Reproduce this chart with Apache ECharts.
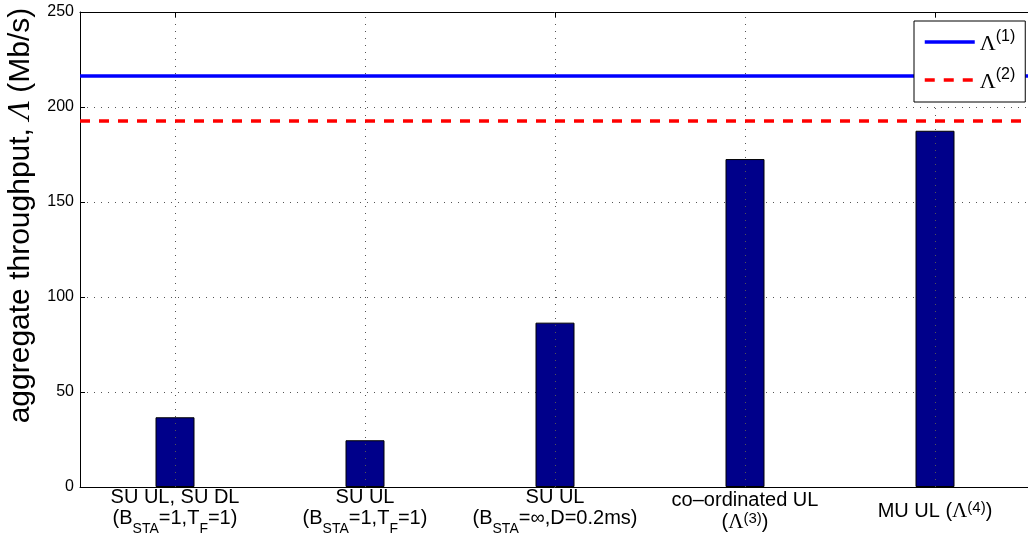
<!DOCTYPE html>
<html><head><meta charset="utf-8">
<script src="https://cdn.jsdelivr.net/npm/echarts@6/dist/echarts.min.js"></script>
<style>html,body{margin:0;padding:0;background:#fff}#c{width:1028px;height:542px}</style>
</head><body><div id="c"></div>
<script>
// ---- data ----
const categories = [
  'SU UL, SU DL\n{m|(B}{sub|STA}{m|=1,T}{sub|F}{m|=1)}',
  'SU UL\n{m|(B}{sub|STA}{m|=1,T}{sub|F}{m|=1)}',
  'SU UL\n{m|(B}{sub|STA}{m|=∞,D=0.2ms)}',
  'co–ordinated UL\n({L|Λ}{sup|(3)})',
  'MU UL ({L|Λ}{sup|(4)})'
];
const throughput = [36.7, 24.6, 86.5, 172.6, 187.5];
const lineNames = ['Λ(1)', 'Λ(2)'];
const lineSup = ['(1)', '(2)'];
const lineValues = [216.5, 192.8];
const yMin = 0, yMax = 250, yStep = 50;

const FONT = 'Liberation Sans';
const richCommon = {
  m: { fontSize: 20, lineHeight: 22, verticalAlign: 'top', fontFamily: FONT, color: '#000' },
  sub: { fontSize: 14, lineHeight: 28, verticalAlign: 'bottom', fontFamily: FONT, color: '#000' },
  sup: { fontSize: 15, lineHeight: 8, verticalAlign: 'top', fontFamily: FONT, color: '#000' },
  L: { fontSize: 21, lineHeight: 22, fontFamily: 'Liberation Serif', color: '#000' }
};

const chart = echarts.init(document.getElementById('c'), null, { renderer: 'canvas' });
const option = {
  animation: false,
  backgroundColor: '#fff',
  grid: { left: 80, top: 12, width: 950, height: 475, containLabel: false, outerBoundsMode: 'none' },
  legend: {
    data: lineNames,
    orient: 'vertical',
    left: 914, top: 21,
    backgroundColor: '#fff',
    borderColor: '#000', borderWidth: 1, borderRadius: 0,
    padding: [8, 10, 9, 9],
    itemWidth: 50, itemHeight: 14, itemGap: 12,
    z: 10,
    itemStyle: { opacity: 0 },
    lineStyle: { width: 3.5 },
    formatter: function (name) {
      const i = lineNames.indexOf(name);
      return '{L|Λ}{sup|' + lineSup[i] + '}';
    },
    textStyle: {
      color: '#000', fontFamily: FONT, fontSize: 20,
      rich: {
        L: { fontSize: 22, lineHeight: 26, verticalAlign: 'bottom', fontFamily: 'Liberation Serif', color: '#000' },
        sup: { fontSize: 16, lineHeight: 15, verticalAlign: 'top', fontFamily: FONT, color: '#000' }
      }
    }
  },
  xAxis: [{
    type: 'category',
    data: categories,
    position: 'bottom',
    axisLine: { show: true, lineStyle: { color: '#000', width: 1 } },
    axisTick: { show: true, inside: true, alignWithLabel: true, length: 5, lineStyle: { color: '#000' } },
    axisLabel: {
      interval: 0, color: '#000', fontFamily: FONT, fontSize: 20, lineHeight: 22,
      verticalAlign: 'middle', margin: 24,
      rich: richCommon
    },
    splitLine: { show: false }
  }, {
    type: 'category',
    data: categories,
    position: 'top',
    axisLine: { show: true, lineStyle: { color: '#000', width: 1 } },
    axisTick: { show: true, inside: true, alignWithLabel: true, length: 5, lineStyle: { color: '#000' } },
    axisLabel: { show: false },
    splitLine: { show: false }
  }],
  yAxis: [{
    type: 'value',
    min: yMin, max: yMax, interval: yStep,
    name: 'aggregate throughput, {i|Λ} (Mb/s)',
    nameLocation: 'middle', nameRotate: 90, nameGap: 40,
    nameTextStyle: {
      color: '#000', fontFamily: FONT, fontSize: 30,
      padding: [0, 0, 0, 68],
      rich: { i: { fontStyle: 'italic', fontFamily: 'Liberation Serif', fontSize: 31, color: '#000' } }
    },
    axisLine: { show: true, lineStyle: { color: '#000', width: 1 } },
    axisTick: { show: true, inside: true, length: 5, lineStyle: { color: '#000' } },
    axisLabel: { color: '#000', fontFamily: FONT, fontSize: 16, margin: 6 },
    splitLine: { show: true, lineStyle: { color: '#555', width: 1, type: [1, 6] } }
  }],
  series: [
    {
      type: 'line', data: [], silent: true, z: 1,
      markLine: {
        silent: true, symbol: 'none', animation: false,
        label: { show: false },
        lineStyle: { color: '#555', width: 1, type: [1, 6] },
        data: categories.map(c => ({ xAxis: c }))
      }
    },
    {
      name: 'throughput', type: 'bar', data: throughput, barWidth: 39, z: 3,
      itemStyle: { color: '#00008A', borderColor: '#000', borderWidth: 1 }
    },
    {
      name: lineNames[0], type: 'line', data: [], symbol: 'none', symbolSize: 0, z: 4,
      lineStyle: { color: '#0000FF', width: 3.5, type: 'solid' },
      itemStyle: { color: '#0000FF' },
      markLine: {
        silent: true, symbol: 'none', animation: false, label: { show: false },
        lineStyle: { color: '#0000FF', width: 3.5, type: 'solid' },
        data: [{ yAxis: lineValues[0] }]
      }
    },
    {
      name: lineNames[1], type: 'line', data: [], symbol: 'none', symbolSize: 0, z: 4,
      lineStyle: { color: '#FF0000', width: 3.5, type: [10, 9] },
      itemStyle: { color: '#FF0000' },
      markLine: {
        silent: true, symbol: 'none', animation: false, label: { show: false },
        lineStyle: { color: '#FF0000', width: 3.5, type: [10, 9] },
        data: [{ yAxis: lineValues[1] }]
      }
    }
  ]
};
chart.setOption(option);
</script>
</body></html>
